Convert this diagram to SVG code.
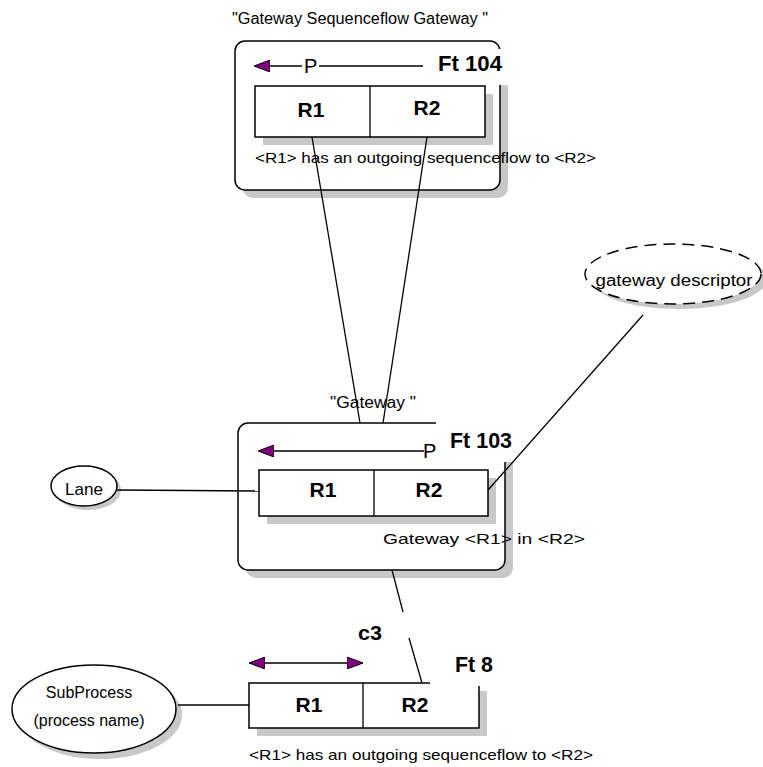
<svg xmlns="http://www.w3.org/2000/svg" width="763" height="767" viewBox="0 0 763 767">
<style>
.sh{fill:#c8c8c8;stroke:none}
.bx{fill:#fff;stroke:#000;stroke-width:1.5}
.ln{fill:none;stroke:#000;stroke-width:1.3}
.t{font-family:"Liberation Sans",Arial,sans-serif;fill:#000}
.b{font-family:"Liberation Sans",Arial,sans-serif;font-weight:bold;fill:#000}
.wl{fill:#fff;stroke:none}
</style>
<defs>
<marker id="ah" viewBox="0 0 16 12" refX="15" refY="6" markerWidth="16" markerHeight="12" markerUnits="userSpaceOnUse" orient="auto-start-reverse">
<path d="M0,0 L16,6 L0,12 Z" fill="#800080" stroke="#000" stroke-width="1"/>
</marker>
</defs>
<rect width="763" height="767" fill="#fff"/>

<g id="ft104">
<text class="t" x="232" y="24" font-size="16" textLength="256" lengthAdjust="spacingAndGlyphs">"Gateway Sequenceflow Gateway "</text>
<rect class="sh" x="243" y="49" width="265" height="149" rx="10"/>
<rect class="bx" x="235" y="41" width="265" height="149" rx="10"/>
<rect class="wl" x="436" y="49" width="76" height="36"/>
<text class="b" x="438" y="71" font-size="22" textLength="64" lengthAdjust="spacingAndGlyphs">Ft 104</text>
<line class="ln" x1="255" y1="66" x2="302" y2="66" marker-start="url(#ah)"/>
<line class="ln" x1="319" y1="66" x2="423" y2="66"/>
<text class="t" x="304" y="73" font-size="20">P</text>
<rect class="sh" x="263" y="94" width="230" height="51"/>
<rect class="bx" x="255" y="86" width="230" height="51"/>
<line class="ln" x1="370" y1="86" x2="370" y2="137"/>
<text class="b" x="311" y="117" font-size="21" text-anchor="middle">R1</text>
<text class="b" x="427" y="115" font-size="21" text-anchor="middle">R2</text>
<text class="t" x="255" y="163" font-size="15" textLength="341" lengthAdjust="spacingAndGlyphs">&lt;R1&gt; has an outgoing sequenceflow to &lt;R2&gt;</text>
</g>

<g id="ft103">
<text class="t" x="330" y="408" font-size="16" textLength="86" lengthAdjust="spacingAndGlyphs">"Gateway "</text>
<rect class="sh" x="246" y="431" width="267" height="147" rx="10"/>
<rect class="bx" x="238" y="423" width="267" height="147" rx="10"/>
<rect class="wl" x="436" y="416" width="80" height="46"/>
<text class="b" x="450" y="448" font-size="22" textLength="62" lengthAdjust="spacingAndGlyphs">Ft 103</text>
<line class="ln" x1="259" y1="451" x2="424" y2="451" marker-start="url(#ah)"/>
<text class="t" x="423" y="458" font-size="20">P</text>
<rect class="sh" x="267" y="478" width="229" height="46"/>
<rect class="bx" x="259" y="470" width="229" height="46"/>
<line class="ln" x1="374" y1="470" x2="374" y2="516"/>
<text class="b" x="323" y="497" font-size="21" text-anchor="middle">R1</text>
<text class="b" x="429" y="497" font-size="21" text-anchor="middle">R2</text>
<text class="t" x="383" y="544" font-size="15" textLength="202" lengthAdjust="spacingAndGlyphs">Gateway &lt;R1&gt; in &lt;R2&gt;</text>
</g>

<g id="ft8">
<rect class="sh" x="257" y="691" width="230" height="45"/>
<rect class="bx" x="249" y="683" width="230" height="45"/>
<rect class="wl" x="430" y="640" width="62" height="46"/>
<line class="ln" x1="363" y1="683" x2="363" y2="728"/>
<text class="b" x="455" y="672" font-size="22" textLength="38" lengthAdjust="spacingAndGlyphs">Ft 8</text>
<line class="ln" x1="250" y1="663" x2="362" y2="663" marker-start="url(#ah)" marker-end="url(#ah)"/>
<text class="b" x="309" y="712" font-size="21" text-anchor="middle">R1</text>
<text class="b" x="415" y="712" font-size="21" text-anchor="middle">R2</text>
<text class="t" x="249" y="760" font-size="15" textLength="344" lengthAdjust="spacingAndGlyphs">&lt;R1&gt; has an outgoing sequenceflow to &lt;R2&gt;</text>
<text class="b" x="358" y="640" font-size="20" textLength="24" lengthAdjust="spacingAndGlyphs">c3</text>
</g>

<g id="subprocess">
<ellipse class="sh" cx="100" cy="715" rx="82" ry="44"/>
<ellipse class="bx" cx="94" cy="709" rx="82" ry="44"/>
<text class="t" x="89" y="698" font-size="16" text-anchor="middle">SubProcess</text>
<text class="t" x="89" y="726" font-size="16" text-anchor="middle">(process name)</text>
</g>

<g id="lane">
<ellipse class="sh" cx="88" cy="490" rx="33" ry="20"/>
<ellipse class="bx" cx="84" cy="486" rx="33" ry="20"/>
<text class="t" x="84" y="495" font-size="17" text-anchor="middle" textLength="38" lengthAdjust="spacingAndGlyphs">Lane</text>
</g>

<g id="descriptor">
<ellipse class="sh" cx="679" cy="279" rx="88" ry="30"/>
<ellipse cx="673" cy="274" rx="88" ry="30" fill="#fff" stroke="#000" stroke-width="1.5" stroke-dasharray="12,7"/>
<text class="t" x="674" y="286" font-size="16" text-anchor="middle" textLength="157" lengthAdjust="spacingAndGlyphs">gateway descriptor</text>
</g>

<g id="connectors">
<line class="ln" x1="312" y1="137" x2="360" y2="423"/>
<line class="ln" x1="427" y1="137" x2="383" y2="423"/>
<line class="ln" x1="117" y1="490" x2="259" y2="491"/>
<line class="ln" x1="643" y1="315" x2="488" y2="490"/>
<line class="ln" x1="178" y1="705" x2="249" y2="705"/>
<line class="ln" x1="392" y1="570" x2="403" y2="612"/>
<line class="ln" x1="409" y1="638" x2="422" y2="683"/>
</g>
</svg>
